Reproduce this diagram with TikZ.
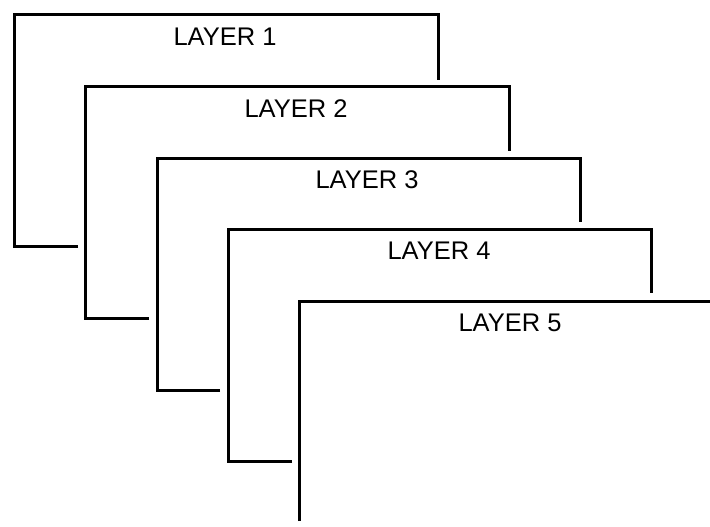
\documentclass[tikz,border=0pt]{standalone}
\usepackage{fontspec}
\setmainfont{Liberation Sans}
\begin{document}
\begin{tikzpicture}[x=1pt,y=-1pt,
  frame/.style={draw=black,line width=3pt,line join=miter,line cap=butt},
  lbl/.style={font=\fontsize{25.5}{29}\selectfont,inner sep=0pt,anchor=center}]
\useasboundingbox (0,0) rectangle (710,527);
\foreach \i/\lx/\ty/\rx/\ry/\by/\bx in {1/14/15/438/80/246/78, 2/85/87/509/151/318/149, 3/157/158/580/222/390/220, 4/228/229/651/293/461/292}{
  \draw[frame] (\bx,\by) -- (\lx,\by) -- (\lx,\ty) -- (\rx,\ty) -- (\rx,\ry);
}
\draw[frame] (299,521) -- (299,301) -- (712,301);
\node[lbl] (l1) at (225,37) {LAYER 1};
\node[lbl] (l2) at (296,109) {LAYER 2};
\node[lbl] (l3) at (367,180) {LAYER 3};
\node[lbl] (l4) at (439,251) {LAYER 4};
\node[lbl] (l5) at (510,323) {LAYER 5};
\end{tikzpicture}
\end{document}
